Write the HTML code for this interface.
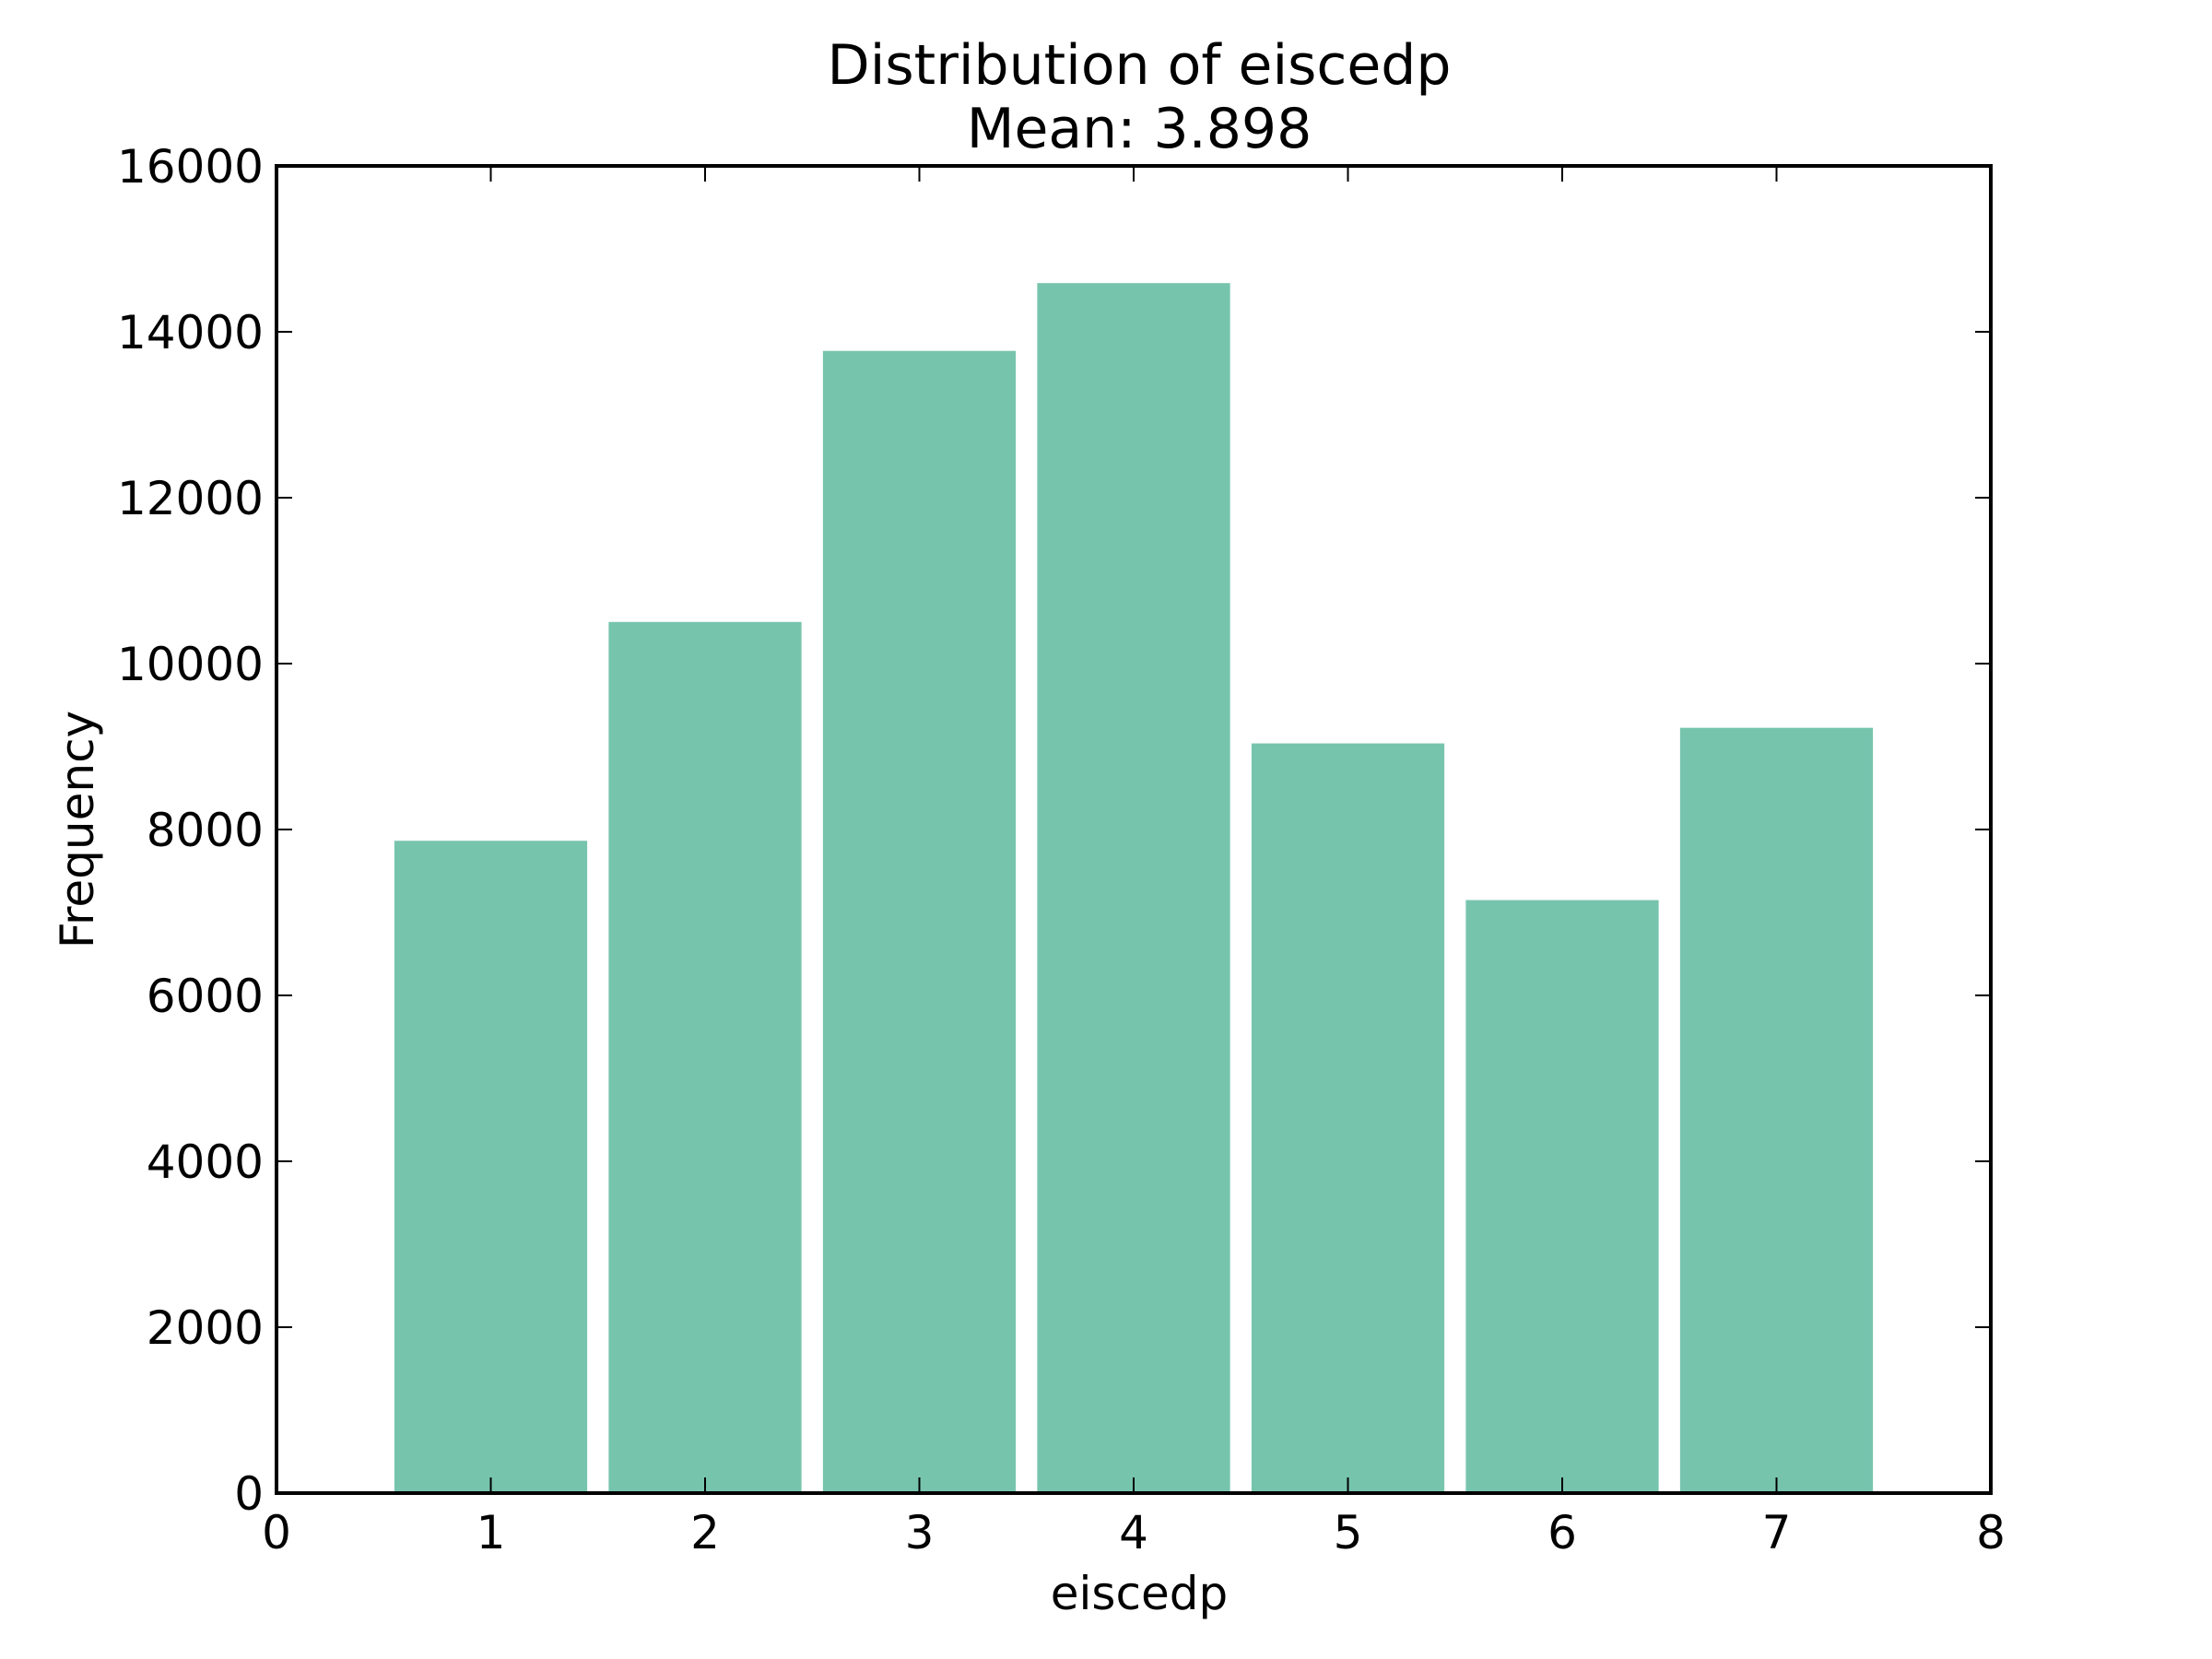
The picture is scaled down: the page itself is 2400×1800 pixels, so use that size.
<!DOCTYPE html>
<html><head><meta charset="utf-8"><style>
html,body{margin:0;padding:0;background:#fff;}
svg{display:block;font-family:"DejaVu Sans","Liberation Sans",sans-serif;}
</style></head><body>
<svg id="chart" width="2400" height="1800" viewBox="0 0 2400 1800">
<text x="1236" y="91" font-size="60" text-anchor="middle">Distribution of eiscedp</text>
<text x="1236" y="160" font-size="60" text-anchor="middle">Mean: 3.898</text>
<g id="bars"></g>
<g id="axes"></g>
<text x="1236" y="1746" font-size="50" text-anchor="middle">eiscedp</text>
<text transform="translate(101,900) rotate(-90)" font-size="50" text-anchor="middle">Frequency</text>
</svg>
<script>
const categories = [1, 2, 3, 4, 5, 6, 7];
const frequencies = [7864, 10502, 13770, 14587, 9038, 7149, 9226];
const xTicks = [0, 1, 2, 3, 4, 5, 6, 7, 8];
const yTicks = [0, 2000, 4000, 6000, 8000, 10000, 12000, 14000, 16000];

const L = 300, R = 2160, T = 180, B = 1620;
const xMin = 0, xMax = 8, yMin = 0, yMax = 16000;
const xs = v => L + (v - xMin) / (xMax - xMin) * (R - L);
const ys = v => B - (v - yMin) / (yMax - yMin) * (B - T);
const NS = 'http://www.w3.org/2000/svg';
const barsG = document.getElementById('bars');
const axesG = document.getElementById('axes');
function mk(tag, attrs, parent) {
  const e = document.createElementNS(NS, tag);
  for (const k in attrs) e.setAttribute(k, attrs[k]);
  parent.appendChild(e);
  return e;
}
const bw = 0.9;
categories.forEach((c, i) => {
  const r = mk('rect', {x: xs(c - bw / 2), y: ys(frequencies[i]), width: xs(c + bw / 2) - xs(c - bw / 2), height: ys(0) - ys(frequencies[i]), fill: '#77c4ad'}, barsG);
  
  
});
const frame = mk('rect', {x: L, y: T, width: R - L, height: B - T, fill: 'none', stroke: '#000', 'stroke-width': 4}, axesG);


const tl = 17;
xTicks.forEach(t => {
  const x = xs(t);
  const g = mk('g', {}, axesG);
  
  
  mk('line', {x1: x, x2: x, y1: B, y2: B - tl, stroke: '#000', 'stroke-width': 2}, g);
  mk('line', {x1: x, x2: x, y1: T, y2: T + tl, stroke: '#000', 'stroke-width': 2}, g);
  const tx = mk('text', {x: x, y: B + 60, 'font-size': 50, 'text-anchor': 'middle'}, g);
  tx.textContent = t;
});
yTicks.forEach(t => {
  const y = ys(t);
  const g = mk('g', {}, axesG);
  
  
  mk('line', {x1: L, x2: L + tl, y1: y, y2: y, stroke: '#000', 'stroke-width': 2}, g);
  mk('line', {x1: R, x2: R - tl, y1: y, y2: y, stroke: '#000', 'stroke-width': 2}, g);
  const tx = mk('text', {x: L - 14, y: y + 18, 'font-size': 50, 'text-anchor': 'end'}, g);
  tx.textContent = t;
});
</script>
</body></html>
